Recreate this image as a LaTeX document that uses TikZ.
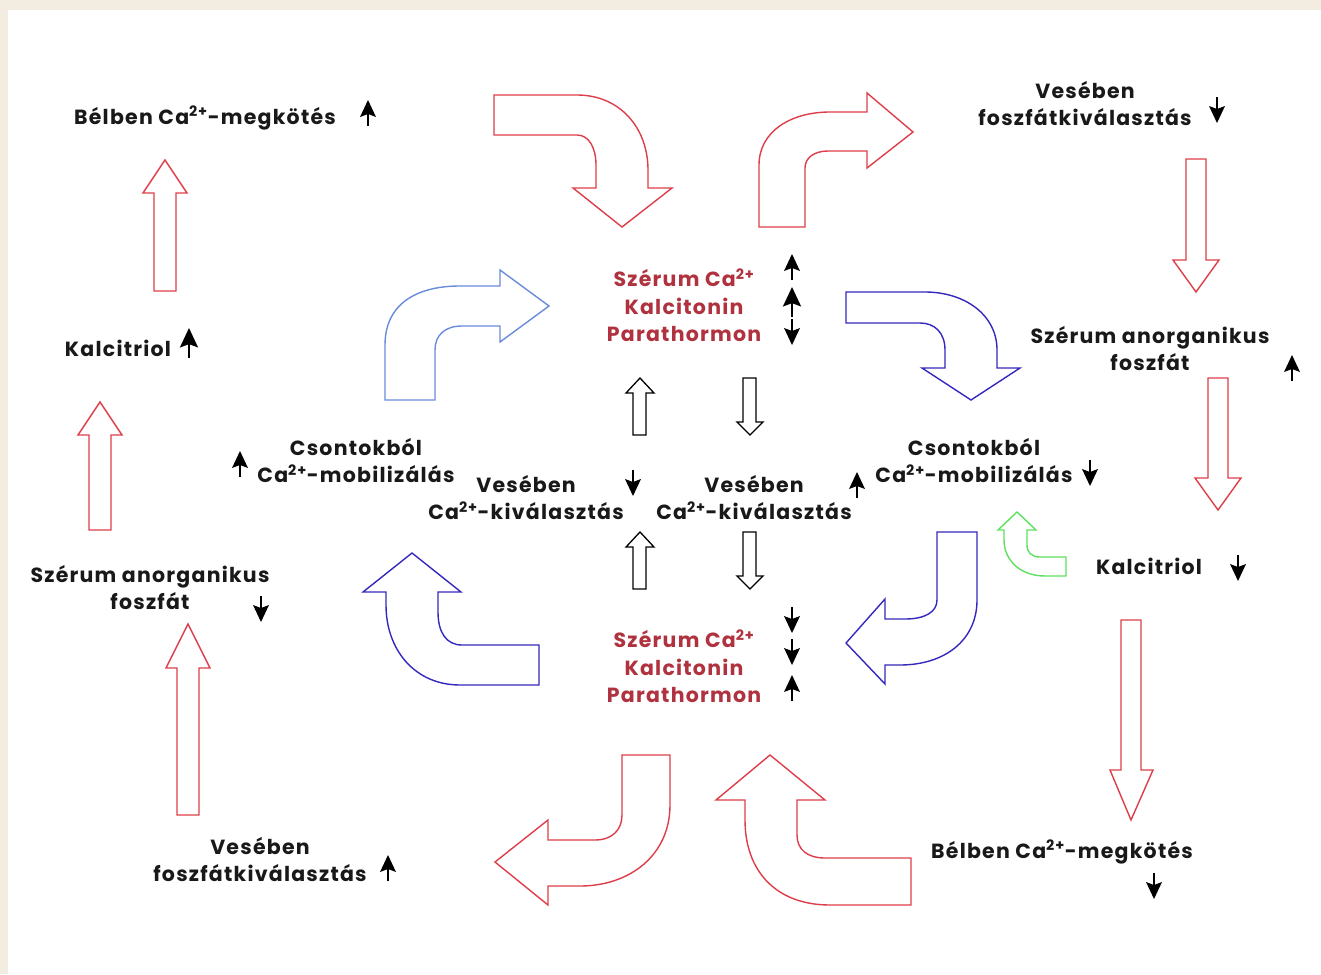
\documentclass[tikz,border=0pt]{standalone}
\usepackage{fontspec}
\setmainfont{Poppins}[LetterSpace=6]
\usetikzlibrary{arrows.meta}
\definecolor{bgbeige}{RGB}{243,237,225}
\definecolor{redline}{RGB}{222,62,74}
\definecolor{blueline}{RGB}{52,40,190}
\definecolor{lightblue}{RGB}{105,140,220}
\definecolor{greenline}{RGB}{95,225,95}
\definecolor{redtext}{RGB}{176,50,62}
\definecolor{txt}{RGB}{25,25,25}
\begin{document}
\begin{tikzpicture}[x=1pt,y=-1pt,
  lbl/.style={font=\fontsize{20.5}{27}\selectfont\bfseries, text=txt, align=center, inner sep=0pt},
  ctr/.style={font=\fontsize{20.5}{27.5}\selectfont\bfseries, text=redtext, align=center, inner sep=0pt},
  redarrow/.style={draw=redline, line width=1.4pt, fill=white, line join=miter},
  bluearrow/.style={draw=blueline, line width=1.4pt, fill=white},
  lbluearrow/.style={draw=lightblue, line width=1.4pt, fill=white},
  grnarrow/.style={draw=greenline, line width=1.4pt, fill=white},
  blkarrow/.style={draw=black, line width=1.3pt, fill=white},
  upind/.pic={\draw[line width=2.6pt] (0,13) -- (0,-2); \fill (0,-13) -- (8,4) -- (0,1) -- (-8,4) -- cycle;},
  downind/.pic={\draw[line width=2.6pt] (0,-13) -- (0,2); \fill (0,13) -- (8,-4) -- (0,-1) -- (-8,-4) -- cycle;}]
\useasboundingbox (0,0) rectangle (1321,974);
\fill[bgbeige] (0,0) rectangle (1321,974);
\fill[white] (8,10) rectangle (1321,974);

% ---- curved arrows ----
\draw[redarrow] (494,95) -- (577,95) .. controls (620,95) and (648,128) .. (648,170) -- (648,188) -- (672,188) -- (622,227) -- (573,188) -- (596,188) -- (596,165) .. controls (596,148) and (589,135) .. (577,135) -- (494,135) -- cycle;
\draw[redarrow] (759,227) -- (759,165) .. controls (759,132) and (790,112) .. (830,112) -- (867,112) -- (867,93) -- (913,132) -- (867,168) -- (867,151) -- (828,151) .. controls (814,151) and (805,158) .. (805,168) -- (805,227) -- cycle;
\draw[lbluearrow] (385,400) -- (385,345) .. controls (385,305) and (415,286) .. (460,286) -- (500,286) -- (500,270) -- (549,306) -- (500,342) -- (500,326) -- (462,326) .. controls (445,326) and (435,335) .. (435,350) -- (435,400) -- cycle;
\draw[bluearrow] (846,323) -- (920,323) .. controls (935,323) and (945,333) .. (945,350) -- (945,368) -- (922,368) -- (971,400) -- (1020,368) -- (997,368) -- (997,350) .. controls (997,315) and (965,292) .. (925,292) -- (846,292) -- cycle;
\draw[bluearrow] (412,553) -- (461,592) -- (438,592) -- (438,612) .. controls (438,632) and (446,645) .. (462,645) -- (539,645) -- (539,685) -- (460,685) .. controls (415,685) and (386,650) .. (386,605) -- (386,592) -- (363,592) -- cycle;
\draw[bluearrow] (937,532) -- (937,600) .. controls (937,612) and (925,619) .. (905,619) -- (885,619) -- (885,599) -- (846,643) -- (885,684) -- (885,665) -- (900,665) .. controls (945,665) and (977,640) .. (977,600) -- (977,532) -- cycle;
\draw[grnarrow] (1017,512) -- (1036,530) -- (1027,530) -- (1027,545) .. controls (1027,553) and (1032,557) .. (1040,557) -- (1066,557) -- (1066,576) -- (1045,576) .. controls (1020,576) and (1004,560) .. (1004,540) -- (1004,530) -- (998,530) -- cycle;
\draw[redarrow] (622,755) -- (670,755) -- (670,805) .. controls (670,855) and (630,886) .. (580,886) -- (548,886) -- (548,905) -- (495,862) -- (548,820) -- (548,840) -- (595,840) .. controls (612,840) and (622,830) .. (622,815) -- cycle;
\draw[redarrow] (770,755) -- (825,800) -- (797,800) -- (797,835) .. controls (797,850) and (808,858) .. (825,858) -- (911,858) -- (911,905) -- (830,905) .. controls (775,905) and (745,870) .. (745,820) -- (745,800) -- (716,800) -- cycle;

% ---- straight red arrows ----
\draw[redarrow] (165,160) -- (187,193) -- (176,193) -- (176,291) -- (154,291) -- (154,193) -- (143,193) -- cycle;
\draw[redarrow] (100,402) -- (122,435) -- (111,435) -- (111,530) -- (89,530) -- (89,435) -- (78,435) -- cycle;
\draw[redarrow] (188,624) -- (210,668) -- (199,668) -- (199,815) -- (177,815) -- (177,668) -- (166,668) -- cycle;
\draw[redarrow] (1186,159) -- (1206,159) -- (1206,260) -- (1219,260) -- (1196,292) -- (1173,260) -- (1186,260) -- cycle;
\draw[redarrow] (1208,378) -- (1228,378) -- (1228,478) -- (1241,478) -- (1218,510) -- (1195,478) -- (1208,478) -- cycle;
\draw[redarrow] (1121,620) -- (1141,620) -- (1141,770) -- (1153,770) -- (1131,820) -- (1110,770) -- (1121,770) -- cycle;

% ---- small hollow black arrows ----
\draw[blkarrow] (640,378) -- (654,393) -- (646,393) -- (646,435) -- (633,435) -- (633,393) -- (626,393) -- cycle;
\draw[blkarrow] (743,378) -- (756,378) -- (756,422) -- (763,422) -- (750,435) -- (737,422) -- (743,422) -- cycle;
\draw[blkarrow] (640,532) -- (654,547) -- (646,547) -- (646,589) -- (633,589) -- (633,547) -- (626,547) -- cycle;
\draw[blkarrow] (743,532) -- (756,532) -- (756,576) -- (763,576) -- (750,589) -- (737,576) -- (743,576) -- cycle;

% ---- labels ----
\node[lbl] (bel1) at (205,118) {Bélben Ca\textsuperscript{2+}-megkötés};
\node[lbl] (kal1) at (118,348) {Kalcitriol};
\node[lbl] (cso1) at (356,461) {Csontokból\\Ca\textsuperscript{2+}-mobilizálás};
\node[lbl] (ves1) at (526,498) {Vesében\\Ca\textsuperscript{2+}-kiválasztás};
\node[lbl] (ves2) at (754,498) {Vesében\\Ca\textsuperscript{2+}-kiválasztás};
\node[lbl] (cso2) at (974,461) {Csontokból\\Ca\textsuperscript{2+}-mobilizálás};
\node[lbl] (vf1) at (1085,104) {Vesében\\foszfátkiválasztás};
\node[lbl] (sza1) at (1150,349) {Szérum anorganikus\\foszfát};
\node[lbl] (kal2) at (1149,566) {Kalcitriol};
\node[lbl] (bel2) at (1062,852) {Bélben Ca\textsuperscript{2+}-megkötés};
\node[lbl] (sza2) at (150,588) {Szérum anorganikus\\foszfát};
\node[lbl] (vf2) at (260,860) {Vesében\\foszfátkiválasztás};
\node[ctr] (ctop) at (684,305) {Szérum Ca\textsuperscript{2+}\\Kalcitonin\\Parathormon};
\node[ctr] (cbot) at (684,666) {Szérum Ca\textsuperscript{2+}\\Kalcitonin\\Parathormon};

% ---- indicator arrows ----
\pic at (368,113) {upind};
\pic[scale=1.15] at (189,343) {upind};
\pic at (240,464) {upind};
\pic at (633,483) {downind};
\pic at (857,485) {upind};
\pic at (1090,473) {downind};
\pic at (1217,110) {downind};
\pic at (1292,368) {upind};
\pic at (1238,568) {downind};
\pic at (1154,886) {downind};
\pic at (261,609) {downind};
\pic at (388,868) {upind};
\pic at (792,267) {upind};
\pic[scale=1.15] at (792,302) {upind};
\pic at (792,332) {downind};
\pic at (792,620) {downind};
\pic at (792,652) {downind};
\pic at (792,688) {upind};
\end{tikzpicture}
\end{document}
